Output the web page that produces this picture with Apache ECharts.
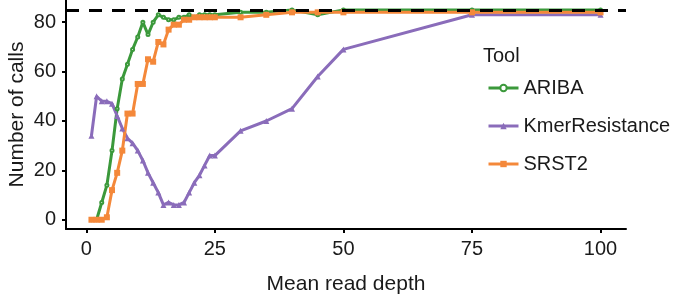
<!DOCTYPE html>
<html>
<head>
<meta charset="utf-8">
<script src="https://cdn.jsdelivr.net/npm/echarts@6/dist/echarts.min.js"></script>
<style>
  html, body { margin: 0; padding: 0; background: #fff; }
  #chartPanel { width: 678px; height: 297px; }
</style>
</head>
<body>
<div id="chartPanel"></div>
<script>
// mean read depth (x)
var depth = [1, 2, 3, 4, 5, 6, 7, 8, 9, 10, 11, 12, 13, 14, 15, 16, 17, 18, 19, 20,
             21, 22, 23, 24, 25, 30, 35, 40, 45, 50, 75, 100];
// number of calls per tool
var ariba = [0, 0, 7, 14, 28, 45, 57, 63, 69, 74, 80, 75, 80, 83, 82, 81, 81, 82, 82, 83,
             82, 83, 83, 83, 83, 84, 84, 85, 83, 85, 85, 85];
var kmerResistance = [34, 50, 48, 48, 47, 42, 37, 33, 31, 28, 24, 19, 15, 11, 6, 7, 6, 6, 7, 11,
                      15, 18, 22, 26, 26, 36, 40, 45, 58, 69, 83, 83];
var srst2 = [0, 0, 0, 1, 12, 19, 28, 43, 43, 55, 55, 65, 64, 72, 71, 77, 79, 79, 81, 81,
             82, 82, 82, 82, 82, 82, 83, 84, 84, 84, 84, 84];
var xTicks = [0, 25, 50, 75, 100];
var yTicks = [0, 20, 40, 60, 80];
var totalLine = 85;

var font = "Liberation Sans, Arial, sans-serif";
var colors = { ariba: "#3b993b", kmer: "#8a6cba", srst2: "#f4883a" };

function pairs(ys) {
  return depth.map(function (d, i) { return [d, ys[i]]; });
}

var chartPanel = echarts.init(document.getElementById("chartPanel"));

var option = {
  animation: false,
  backgroundColor: "#fff",
  textStyle: { fontFamily: font, color: "#1a1a1a" },
  grid: { left: 66, right: 52, top: 0, bottom: 68, outerBoundsMode: "none" },
  title: {
    text: "Tool",
    left: 478,
    top: 41,
    textStyle: { fontFamily: font, fontSize: 20, fontWeight: "normal", color: "#1a1a1a" }
  },
  legend: {
    orient: "vertical",
    left: 482,
    top: 73,
    itemWidth: 30,
    itemHeight: 8,
    itemGap: 18,
    textStyle: { fontFamily: font, fontSize: 20, color: "#1a1a1a" },
    lineStyle: { width: 3 },
    data: ["ARIBA", "KmerResistance", "SRST2"]
  },
  xAxis: {
    type: "value",
    min: -3.95,
    max: 104.95,
    name: "Mean read depth",
    nameLocation: "middle",
    nameGap: 45,
    nameMoveOverlap: false,
    nameTextStyle: { fontFamily: font, fontSize: 21, color: "#1a1a1a" },
    axisLine: { show: true, onZero: false, lineStyle: { color: "#000", width: 2 } },
    axisTick: { show: true, length: 4, lineStyle: { color: "#000", width: 2 }, customValues: xTicks },
    axisLabel: { fontFamily: font, fontSize: 20, color: "#1a1a1a", margin: 10, customValues: xTicks },
    splitLine: { show: false }
  },
  yAxis: {
    type: "value",
    min: -3.75,
    max: 89,
    name: "Number of calls",
    nameLocation: "middle",
    nameGap: 38,
    nameMoveOverlap: false,
    nameTextStyle: { fontFamily: font, fontSize: 21, color: "#1a1a1a" },
    axisLine: { show: true, onZero: false, lineStyle: { color: "#000", width: 2 } },
    axisTick: { show: true, length: 4, lineStyle: { color: "#000", width: 2 }, customValues: yTicks },
    axisLabel: { fontFamily: font, fontSize: 20, color: "#1a1a1a", margin: 10, customValues: yTicks },
    splitLine: { show: false }
  },
  series: [
    {
      name: "ARIBA",
      type: "line",
      data: pairs(ariba),
      symbol: "emptyCircle",
      symbolSize: 3,
      lineStyle: { color: colors.ariba, width: 3 },
      itemStyle: { color: colors.ariba, borderWidth: 1 }
    },
    {
      name: "KmerResistance",
      type: "line",
      data: pairs(kmerResistance),
      symbol: "triangle",
      symbolSize: 6,
      lineStyle: { color: colors.kmer, width: 3 },
      itemStyle: { color: colors.kmer }
    },
    {
      name: "SRST2",
      type: "line",
      data: pairs(srst2),
      symbol: "rect",
      symbolSize: 6,
      lineStyle: { color: colors.srst2, width: 3 },
      itemStyle: { color: colors.srst2 },
      markLine: {
        silent: true,
        symbol: "none",
        label: { show: false },
        lineStyle: { color: "#000", width: 3, type: [13, 10] },
        data: [{ yAxis: totalLine }]
      }
    }
  ]
};

chartPanel.setOption(option);
</script>
</body>
</html>
